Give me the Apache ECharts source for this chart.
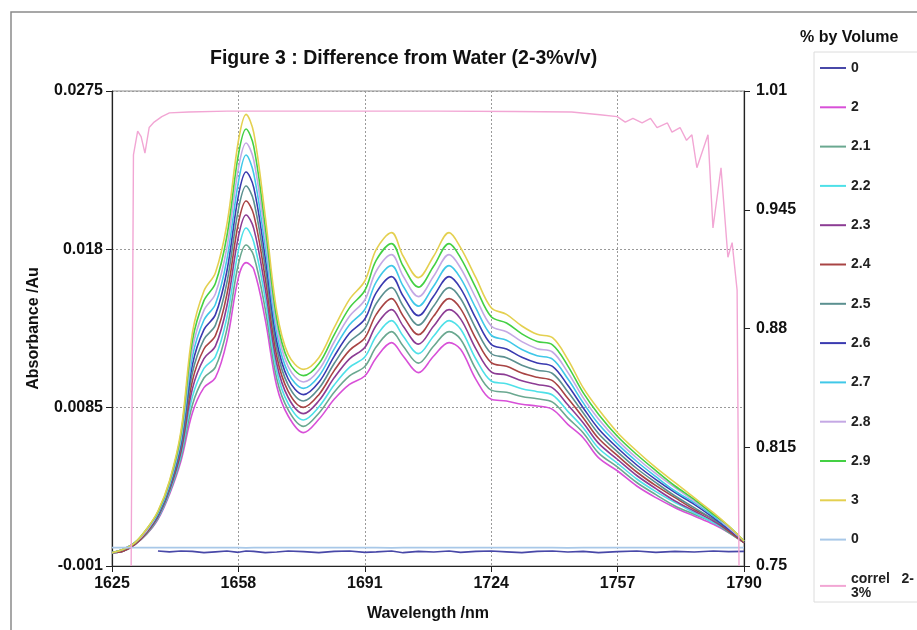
<!DOCTYPE html>
<html>
<head>
<meta charset="utf-8">
<script src="https://cdn.jsdelivr.net/npm/echarts@6/dist/echarts.min.js"></script>
<style>html,body{margin:0;padding:0;background:#fff;}#c{width:917px;height:630px;}</style>
</head>
<body>
<div id="c"></div>
<script>
// Wavelength grid (nm)
var wavelengths = [1625,1628,1631,1634,1637,1640,1643,1646,1649,1652,1655,1658,1660,1662,1665,1668,1671,1675,1679,1683,1687,1691,1694,1698,1701,1705,1709,1713,1716,1720,1724,1728,1732,1736,1740,1744,1748,1752,1757,1762,1767,1772,1777,1782,1786,1790];

// Absorbance difference series (Au)
var zeroA = [null,null,null,null,-0.0001,-0.00015,-0.0001,-0.00012,-0.0002,-0.00015,-0.0001,-0.00018,-0.0001,-0.00012,-0.0002,-0.00016,-0.0001,-0.00014,-0.0002,-0.00012,-0.0001,-0.00018,-0.00015,-0.0001,-0.0002,-0.00012,-0.00016,-0.0001,-0.00018,-0.00012,-0.0001,-0.00015,-0.0002,-0.00012,-0.0001,-0.00016,-0.00012,-0.0002,-0.00014,-0.0001,-0.00018,-0.00012,-0.00016,-0.0001,-0.00014,-0.00012];
var v20 = [-0.0002,-0.0001,0.0003,0.0009,0.0018,0.0033,0.0053,0.0082,0.0097,0.0103,0.0125,0.0163,0.0172,0.0168,0.0138,0.0098,0.0080,0.0070,0.0078,0.0090,0.0099,0.0104,0.0115,0.0124,0.0116,0.0106,0.0116,0.0124,0.0120,0.0102,0.0090,0.0089,0.0087,0.0086,0.0084,0.0075,0.0067,0.0055,0.0047,0.0038,0.0031,0.0025,0.0020,0.0015,0.0010,0.0004];
var v21 = [-0.0002,-0.0001,0.0003,0.0009,0.00185,0.00338,0.00548,0.00868,0.01028,0.01093,0.0132,0.01712,0.01826,0.01762,0.01442,0.01025,0.00837,0.00738,0.00817,0.00943,0.01041,0.01097,0.01215,0.01306,0.0122,0.01117,0.0122,0.01306,0.01261,0.01081,0.00955,0.00942,0.00917,0.00903,0.00883,0.00789,0.0070,0.00579,0.00493,0.00401,0.00328,0.0026,0.0021,0.0016,0.0010,0.0004];
var v22 = [-0.0002,-0.0001,0.0003,0.0010,0.0019,0.00346,0.00566,0.00916,0.01086,0.01156,0.0139,0.01794,0.01928,0.01844,0.01504,0.0107,0.00874,0.00776,0.00854,0.00986,0.01092,0.01154,0.0128,0.01372,0.0128,0.01174,0.0128,0.01372,0.01322,0.01142,0.0101,0.00994,0.00964,0.00946,0.00926,0.00828,0.0073,0.00608,0.00516,0.00422,0.00346,0.0028,0.0022,0.0016,0.0011,0.0004];
var v23 = [-0.0002,-0.0001,0.0003,0.0010,0.00195,0.00354,0.00584,0.00964,0.01144,0.01219,0.0146,0.01876,0.02006,0.01926,0.01566,0.01115,0.00911,0.00814,0.00891,0.01029,0.01143,0.01211,0.01345,0.01438,0.0134,0.01231,0.0134,0.01438,0.01383,0.01203,0.01065,0.01046,0.01011,0.00989,0.00969,0.00867,0.0076,0.00637,0.00539,0.00443,0.00364,0.0029,0.0023,0.0017,0.0011,0.0004];
var v24 = [-0.0002,-0.0001,0.0003,0.0010,0.0020,0.00362,0.00602,0.01012,0.01202,0.01282,0.0153,0.01958,0.0209,0.02008,0.01628,0.0116,0.00948,0.00852,0.00928,0.01072,0.01194,0.01268,0.0141,0.01504,0.0140,0.01288,0.0140,0.01504,0.01444,0.01264,0.0112,0.01098,0.01058,0.01032,0.01012,0.00906,0.0079,0.00666,0.00562,0.00464,0.00382,0.0031,0.0024,0.0018,0.0011,0.0004];
var v25 = [-0.0002,0,0.0004,0.0011,0.00205,0.0037,0.0062,0.0106,0.0126,0.01345,0.0160,0.0204,0.0218,0.0209,0.0169,0.01205,0.00985,0.0089,0.00965,0.01115,0.01245,0.01325,0.01475,0.0157,0.0146,0.01345,0.0146,0.0157,0.01505,0.01325,0.01175,0.0115,0.01105,0.01075,0.01055,0.00945,0.0082,0.00695,0.00585,0.00485,0.0040,0.0032,0.0025,0.0018,0.0012,0.0005];
var v26 = [-0.0002,0,0.0004,0.0011,0.0021,0.00378,0.00638,0.01108,0.01318,0.01408,0.0167,0.02122,0.02264,0.02172,0.01752,0.0125,0.01022,0.00928,0.01002,0.01158,0.01296,0.01382,0.0154,0.01636,0.0152,0.01402,0.0152,0.01636,0.01566,0.01386,0.0123,0.01202,0.01152,0.01118,0.01098,0.00984,0.0085,0.00724,0.00608,0.00506,0.00418,0.0034,0.0027,0.0019,0.0012,0.0005];
var v27 = [-0.0002,0,0.0004,0.0011,0.00215,0.00386,0.00656,0.01156,0.01376,0.01471,0.0174,0.02204,0.02366,0.02254,0.01814,0.01295,0.01059,0.00966,0.01039,0.01201,0.01347,0.01439,0.01605,0.01702,0.0158,0.01459,0.0158,0.01702,0.01627,0.01447,0.01285,0.01254,0.01199,0.01161,0.01141,0.01023,0.0088,0.00753,0.00631,0.00527,0.00436,0.0035,0.0028,0.0020,0.0013,0.0005];
var v28 = [-0.0002,0,0.0004,0.0011,0.0022,0.00394,0.00674,0.01204,0.01434,0.01534,0.0181,0.02286,0.02438,0.02336,0.01876,0.0134,0.01096,0.01004,0.01076,0.01244,0.01398,0.01496,0.0167,0.01768,0.0164,0.01516,0.0164,0.01768,0.01688,0.01508,0.0134,0.01306,0.01246,0.01204,0.01184,0.01062,0.0091,0.00782,0.00654,0.00548,0.00454,0.0037,0.0029,0.0021,0.0013,0.0005];
var v29 = [-0.0002,0,0.0004,0.0012,0.00225,0.00402,0.00692,0.01252,0.01492,0.01597,0.0188,0.02368,0.02522,0.02418,0.01938,0.01385,0.01133,0.01042,0.01113,0.01287,0.01449,0.01553,0.01735,0.01834,0.0170,0.01573,0.0170,0.01834,0.01749,0.01569,0.01395,0.01358,0.01293,0.01247,0.01227,0.01101,0.0094,0.00811,0.00677,0.00569,0.00472,0.0038,0.0030,0.0021,0.0014,0.0005];
var v30 = [-0.0002,0,0.0004,0.0012,0.0023,0.0041,0.0071,0.0130,0.0155,0.0166,0.0195,0.0245,0.0261,0.0250,0.0200,0.0143,0.0117,0.0108,0.0115,0.0133,0.0150,0.0161,0.0180,0.0190,0.0176,0.0163,0.0176,0.0190,0.0181,0.0163,0.0145,0.0141,0.0134,0.0129,0.0127,0.0114,0.0097,0.0084,0.0070,0.0059,0.0049,0.0040,0.0031,0.0022,0.0014,0.0005];
var zeroB = [0.0001,0.0001,0.0001,0.0001,0.0001,0.0001,0.0001,0.00011,0.0001,0.0001,0.0001,0.0001,0.00009,0.0001,0.0001,0.0001,0.0001,0.00011,0.0001,0.0001,0.0001,0.0001,0.0001,0.00009,0.0001,0.0001,0.0001,0.0001,0.0001,0.00011,0.0001,0.0001,0.0001,0.0001,0.0001,0.00009,0.0001,0.0001,0.0001,0.0001,0.0001,0.00011,0.0001,0.0001,0.0001,0.0001];

// Correlation (right axis)
var correlX = [1630,1630.6,1631.7,1632.6,1633.6,1634.7,1636,1638,1640,1645,1655,1670,1690,1710,1730,1745,1752.4,1756.9,1759,1761,1763.4,1765.6,1767.3,1770,1771.2,1773.3,1775,1776.4,1777.7,1780.6,1781.9,1784,1785.8,1786.9,1788.2,1788.7];
var correlV = [0.75,0.975,0.988,0.985,0.976,0.990,0.993,0.996,0.998,0.9985,0.999,0.999,0.999,0.999,0.9988,0.9985,0.997,0.996,0.993,0.995,0.9925,0.995,0.990,0.9925,0.9875,0.990,0.983,0.986,0.968,0.986,0.935,0.968,0.919,0.927,0.901,0.75];

// Tick labels
var xTicks = [1625,1658,1691,1724,1757,1790];
var yTicks = [-0.001,0.0085,0.018,0.0275];
var y2Ticks = [0.75,0.815,0.88,0.945,1.01];

var seriesNames = ['0','2','2.1','2.2','2.3','2.4','2.5','2.6','2.7','2.8','2.9','3','0 '];
var seriesValues = [zeroA,v20,v21,v22,v23,v24,v25,v26,v27,v28,v29,v30,zeroB];
var seriesColors = ['#4848a8','#d850d8','#6aa890','#4ee0e8','#8c3c94','#a84444','#5b9090','#3a3ab0','#40c8e8','#c4a8e4','#44d044','#e4d050','#a8c8e8'];

var FONT = '"Liberation Sans", Arial, sans-serif';

var series = seriesNames.map(function (n, i) {
  var vals = seriesValues[i];
  var isZero = (i === 0 || i === 12);
  return {
    name: n, type: 'line', xAxisIndex: 0, yAxisIndex: 0,
    symbol: 'none', smooth: isZero ? false : 0.35,
    lineStyle: { color: seriesColors[i], width: 1.6 },
    itemStyle: { color: seriesColors[i] },
    data: wavelengths.map(function (w, j) { return [w, vals[j]]; })
  };
});
series.push({
  name: 'correl 2-3%', type: 'line', yAxisIndex: 1, symbol: 'none', smooth: false,
  lineStyle: { color: '#f2a6d4', width: 1.4 }, itemStyle: { color: '#f2a6d4' },
  data: correlX.map(function (w, j) { return [w, correlV[j]]; })
});

function plain(v) { return String(v); }

var chart = echarts.init(document.getElementById('c'));
chart.setOption({
  backgroundColor: '#fff',
  animation: false,
  textStyle: { fontFamily: FONT },
  title: [
    { text: 'Figure 3 : Difference from Water (2-3%v/v)', left: 205, top: 44,
      textStyle: { fontSize: 19.5, fontWeight: 'bold', color: '#111', fontFamily: FONT } },
    { text: '% by Volume', left: 795, top: 25,
      textStyle: { fontSize: 16, fontWeight: 'bold', color: '#111', fontFamily: FONT } }
  ],
  graphic: [
    { type: 'rect', shape: { x: 11, y: 12, width: 930, height: 640 }, style: { fill: null, stroke: '#8a8a8a', lineWidth: 1.5 }, silent: true, z: -1 },
    { type: 'rect', shape: { x: 814, y: 52, width: 130, height: 550 }, style: { fill: null, stroke: '#dcdcdc', lineWidth: 1 }, silent: true, z: -1 }
  ],
  legend: {
    orient: 'vertical', left: 814, top: 56, bottom: 10,
    itemWidth: 26, itemHeight: 14, itemGap: 25.3,
    itemStyle: { opacity: 0 },
    data: seriesNames.concat(['correl 2-3%']),
    formatter: function (n) { return n === 'correl 2-3%' ? 'correl   2-\n3%' : n; },
    textStyle: { fontSize: 14, fontWeight: 'bold', color: '#222', fontFamily: FONT }
  },
  grid: { left: 112, right: 173, top: 91, bottom: 64, show: true, borderColor: '#8c8c8c', borderWidth: 1, backgroundColor: '#fff' },
  xAxis: {
    type: 'value', min: 1625, max: 1790,
    name: 'Wavelength /nm', nameLocation: 'middle', nameGap: 40,
    nameTextStyle: { fontSize: 16, fontWeight: 'bold', color: '#111', fontFamily: FONT },
    axisLine: { show: true, onZero: false, lineStyle: { color: '#222', width: 1.2 } },
    axisTick: { show: true, length: 6, customValues: xTicks, lineStyle: { color: '#222' } },
    axisLabel: { customValues: xTicks, formatter: plain, margin: 10, fontSize: 16, fontWeight: 'bold', color: '#111', fontFamily: FONT },
    splitLine: { show: true, lineStyle: { color: '#9a9a9a', type: [2, 2], width: 1 } }
  },
  yAxis: [
    {
      type: 'value', min: -0.001, max: 0.0275, position: 'left',
      name: 'Absorbance /Au', nameLocation: 'middle', nameRotate: 90, nameGap: 70,
      nameTextStyle: { fontSize: 16, fontWeight: 'bold', color: '#111', fontFamily: FONT },
      axisLine: { show: true, onZero: false, lineStyle: { color: '#222', width: 1.2 } },
      axisTick: { show: true, length: 6, customValues: yTicks, lineStyle: { color: '#222' } },
      axisLabel: { customValues: yTicks, formatter: plain, margin: 9, fontSize: 16, fontWeight: 'bold', color: '#111', fontFamily: FONT },
      splitLine: { show: true, lineStyle: { color: '#9a9a9a', type: [2, 2], width: 1 } }
    },
    {
      type: 'value', min: 0.75, max: 1.01, position: 'right',
      axisLine: { show: true, onZero: false, lineStyle: { color: '#222', width: 1.2 } },
      axisTick: { show: true, length: 6, customValues: y2Ticks, lineStyle: { color: '#222' } },
      axisLabel: { customValues: y2Ticks, formatter: plain, margin: 12, fontSize: 16, fontWeight: 'bold', color: '#111', fontFamily: FONT },
      splitLine: { show: false }
    }
  ],
  series: series
});
</script>
</body>
</html>
